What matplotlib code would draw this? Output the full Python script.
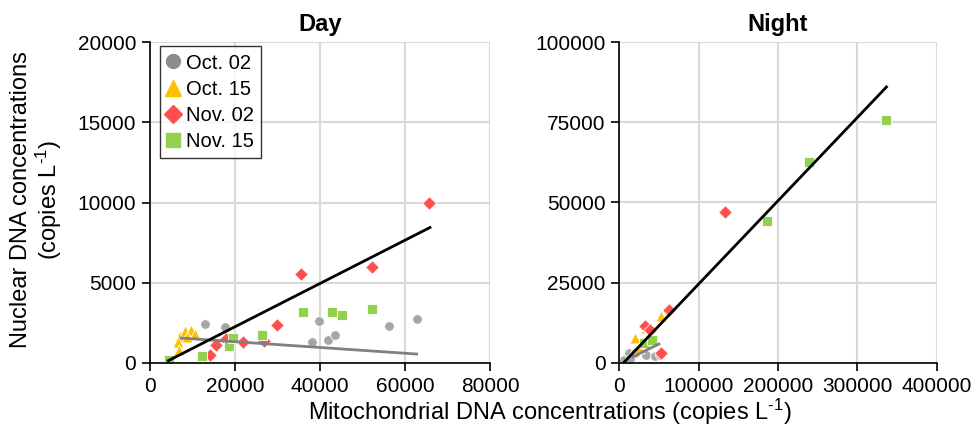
import matplotlib
matplotlib.use("Agg")
import matplotlib.pyplot as plt
from matplotlib.lines import Line2D

plt.rcParams['font.family'] = ['Liberation Sans', 'DejaVu Sans']
plt.rcParams['mathtext.fontset'] = 'custom'
plt.rcParams['mathtext.rm'] = 'Liberation Sans'
plt.rcParams['mathtext.it'] = 'Liberation Sans'

# ---------------- Data: Day ----------------
day_oct02_x = [12940, 17650, 7300, 39690, 38120, 41880, 43530, 56240, 62740]
day_oct02_y = [2420, 2230, 1540, 2590, 1270, 1420, 1710, 2270, 2750]
day_oct15_x = [7060, 8300, 9600, 10500, 6590, 6820, 8800]
day_oct15_y = [1650, 1980, 2040, 1790, 1290, 790, 1600]
day_nov02_x = [14120, 15530, 17880, 21810, 26820, 29800, 35610, 52310, 65720]
day_nov02_y = [480, 1100, 1460, 1310, 1380, 2360, 5560, 5960, 10000]
day_nov15_x = [4470, 12160, 18660, 19450, 26350, 35920, 42750, 45180, 52240]
day_nov15_y = [150, 400, 1060, 1520, 1730, 3190, 3150, 2960, 3360]
# trend lines (start, end)
day_all_trend_x = [4310, 65880]
day_all_trend_y = [125, 8440]
day_oct02_trend_x = [7300, 62740]
day_oct02_trend_y = [1540, 540]

# ---------------- Data: Night ----------------
night_oct02_x = [5500, 11800, 19400, 34000, 44600, 50900, 13000]
night_oct02_y = [840, 2930, 2930, 2400, 2090, 2400, 1060]
night_oct15_x = [20200, 33700, 52600, 24800]
night_oct15_y = [7810, 10750, 14600, 4500]
night_nov02_x = [63000, 32800, 38300, 52200, 132800]
night_nov02_y = [16460, 11460, 10210, 2930, 46880]
night_nov15_x = [31100, 41200, 186200, 238700, 336200]
night_nov15_y = [6060, 7090, 44380, 62500, 75840]
night_all_trend_x = [6700, 336700]
night_all_trend_y = [310, 86060]
night_oct02_trend_x = [17200, 50000]
night_oct02_trend_y = [1870, 5840]

series_labels = ['Oct. 02', 'Oct. 15', 'Nov. 02', 'Nov. 15']
c_grey = '#a6a6a6'
c_grey_leg = '#8c8c8c'
c_yel = '#ffc000'
c_red = '#ff5050'
c_grn = '#92d050'

fig = plt.figure(figsize=(9.71, 4.33), dpi=100)
W, H = 971, 433
ax1 = fig.add_axes([150 / W, 1 - 362.7 / H, 340 / W, 320.4 / H])
ax2 = fig.add_axes([619.3 / W, 1 - 362.7 / H, 317.4 / W, 320.4 / H])


def style(ax, xmax, xstep, ymax, ystep):
    ax.set_xlim(0, xmax)
    ax.set_ylim(0, ymax)
    ax.set_xticks(range(0, xmax + 1, xstep))
    ax.set_yticks(range(0, ymax + 1, ystep))
    ax.grid(True, color='#d9d9d9', linewidth=1.5, zorder=0)
    ax.set_axisbelow(True)
    for s in ['top', 'right']:
        ax.spines[s].set_visible(False)
    for s in ['left', 'bottom']:
        ax.spines[s].set_linewidth(1.2)
        ax.spines[s].set_zorder(5)
    ax.tick_params(labelsize=15, length=6, width=1.2, direction='out', pad=4)


def draw(ax, d, trend_all, trend_grey, ms):
    (gx, gy), (yx, yy), (rx, ry), (nx, ny) = d
    kw = dict(edgecolors='white', linewidths=0.6, zorder=3)
    ax.scatter(gx, gy, s=ms, marker='o', color=c_grey, **kw)
    ax.scatter(yx, yy, s=ms * 1.3, marker='^', color=c_yel, **kw)
    ax.scatter(rx, ry, s=ms, marker='D', color=c_red, **kw)
    ax.scatter(nx, ny, s=ms * 1.1, marker='s', color=c_grn, **kw)
    ax.plot(trend_grey[0], trend_grey[1], color='#808080', lw=2.0, zorder=4)
    ax.plot(trend_all[0], trend_all[1], color='black', lw=2.0, zorder=4)


style(ax1, 80000, 20000, 20000, 5000)
style(ax2, 400000, 100000, 100000, 25000)

draw(ax1, [(day_oct02_x, day_oct02_y), (day_oct15_x, day_oct15_y),
           (day_nov02_x, day_nov02_y), (day_nov15_x, day_nov15_y)],
     (day_all_trend_x, day_all_trend_y), (day_oct02_trend_x, day_oct02_trend_y), 48)
draw(ax2, [(night_oct02_x, night_oct02_y), (night_oct15_x, night_oct15_y),
           (night_nov02_x, night_nov02_y), (night_nov15_x, night_nov15_y)],
     (night_all_trend_x, night_all_trend_y), (night_oct02_trend_x, night_oct02_trend_y), 48)

ax1.set_title('Day', fontsize=17, fontweight='bold', pad=8)
ax2.set_title('Night', fontsize=17, fontweight='bold', pad=8)

handles = [
    Line2D([], [], ls='none', marker='o', ms=10, color=c_grey_leg, mec=c_grey_leg),
    Line2D([], [], ls='none', marker='^', ms=11, color=c_yel, mec=c_yel),
    Line2D([], [], ls='none', marker='D', ms=9, color=c_red, mec=c_red),
    Line2D([], [], ls='none', marker='s', ms=9.5, color=c_grn, mec=c_grn),
]
leg = ax1.legend(handles, series_labels, loc='upper left', bbox_to_anchor=(0.03, 0.987),
                 fontsize=14.5, frameon=True, fancybox=False, edgecolor='black',
                 handlelength=0.6, handletextpad=0.35, labelspacing=0.36,
                 borderpad=0.35, borderaxespad=0.0)
leg.get_frame().set_linewidth(1.0)

sup = '$^{\\mathregular{\u2010 1}}$'.replace(' ', '')
fig.text(37 / W, 1 - 200 / H, 'Nuclear DNA concentrations\n(copies L' + sup + ')',
         rotation=90, ha='center', va='center', fontsize=17, multialignment='center',
         linespacing=1.1)
fig.text(550 / W, 1 - 412 / H, 'Mitochondrial DNA concentrations (copies L' + sup + ')',
         ha='center', va='center', fontsize=17)

fig.savefig('out.png', dpi=100)
